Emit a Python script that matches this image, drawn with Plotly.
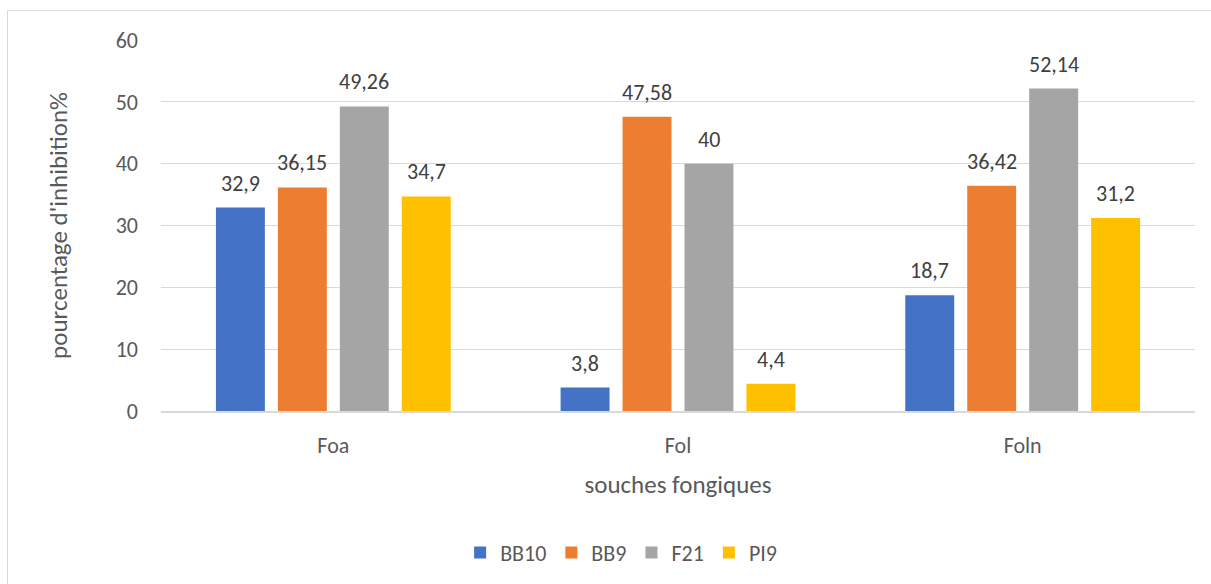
import plotly.graph_objects as go

# Inhibition percentages per strain, by fungal target
souches = ["Foa", "Fol", "Foln"]
series_names = ["BB10", "BB9", "F21", "PI9"]
bb10 = [32.9, 3.8, 18.7]
bb9 = [36.15, 47.58, 36.42]
f21 = [49.26, 40, 52.14]
pi9 = [34.7, 4.4, 31.2]
colors = ["#4472C4", "#ED7D31", "#A5A5A5", "#FFC000"]
y_ticks = [0, 10, 20, 30, 40, 50, 60]

FONT = "Carlito, Lato, 'Open Sans', sans-serif"

W, H = 1211, 584
ML, MR, MT, MB = 161, 16, 40, 172
BARGAP = 0.281
GROUPGAP = 0.21


def fr(v):
    # French decimal separator
    return ("%g" % v).replace(".", ",")


fig = go.Figure()
all_series = [bb10, bb9, f21, pi9]
for name, vals, col in zip(series_names, all_series, colors):
    fig.add_trace(go.Bar(
        name=name,
        x=souches,
        y=vals,
        marker=dict(color=col, line=dict(width=0)),
        hoverinfo="x+y+name",
    ))

# value labels above each bar (offset within the group by slot index)
cat_w = (W - ML - MR) / len(souches)
slot = cat_w * (1 - BARGAP) / len(series_names)
annotations = []
for i, vals in enumerate(all_series):
    dx = (i - (len(series_names) - 1) / 2) * slot
    for cat, v in zip(souches, vals):
        annotations.append(dict(
            x=cat, y=v, xref="x", yref="y",
            text=fr(v), showarrow=False,
            xshift=dx, yshift=9, yanchor="bottom", xanchor="center",
            font=dict(family=FONT, size=22, color="#404040"),
        ))

fig.update_layout(
    width=W,
    height=H,
    margin=dict(l=ML, r=MR, t=MT, b=MB),
    paper_bgcolor="white",
    plot_bgcolor="white",
    barmode="group",
    bargap=BARGAP,
    bargroupgap=GROUPGAP,
    font=dict(family=FONT, color="#595959"),
    showlegend=True,
    legend=dict(
        orientation="h",
        x=0.445, xanchor="center",
        y=-0.378, yanchor="middle",
        font=dict(family=FONT, size=22, color="#595959"),
        itemwidth=30,
        traceorder="normal",
    ),
    annotations=annotations,
    xaxis=dict(
        title=dict(text="souches fongiques", font=dict(family=FONT, size=25, color="#595959"), standoff=17),
        tickfont=dict(family=FONT, size=22, color="#595959"),
        showline=True, linecolor="#D9D9D9", linewidth=2,
        ticks="", showgrid=False,
        ticklabelstandoff=14,
    ),
    yaxis=dict(
        title=dict(text="pourcentage d'inhibition%", font=dict(family=FONT, size=25, color="#595959"), standoff=40),
        tickfont=dict(family=FONT, size=22, color="#595959"),
        range=[0, 60],
        tickvals=y_ticks,
        showgrid=True, gridcolor="#D9D9D9", gridwidth=1,
        zeroline=False, showline=False, ticks="",
        ticklabelstandoff=22,
    ),
    shapes=[dict(
        type="rect", xref="paper", yref="paper",
        x0=(7.5 - ML) / (W - ML - MR), x1=(1220 - ML) / (W - ML - MR),
        y0=(412 - 600) / 372, y1=(412 - 10.5) / 372,
        line=dict(color="#D9D9D9", width=1), layer="below",
    )],
)

fig.write_html("out.html")
